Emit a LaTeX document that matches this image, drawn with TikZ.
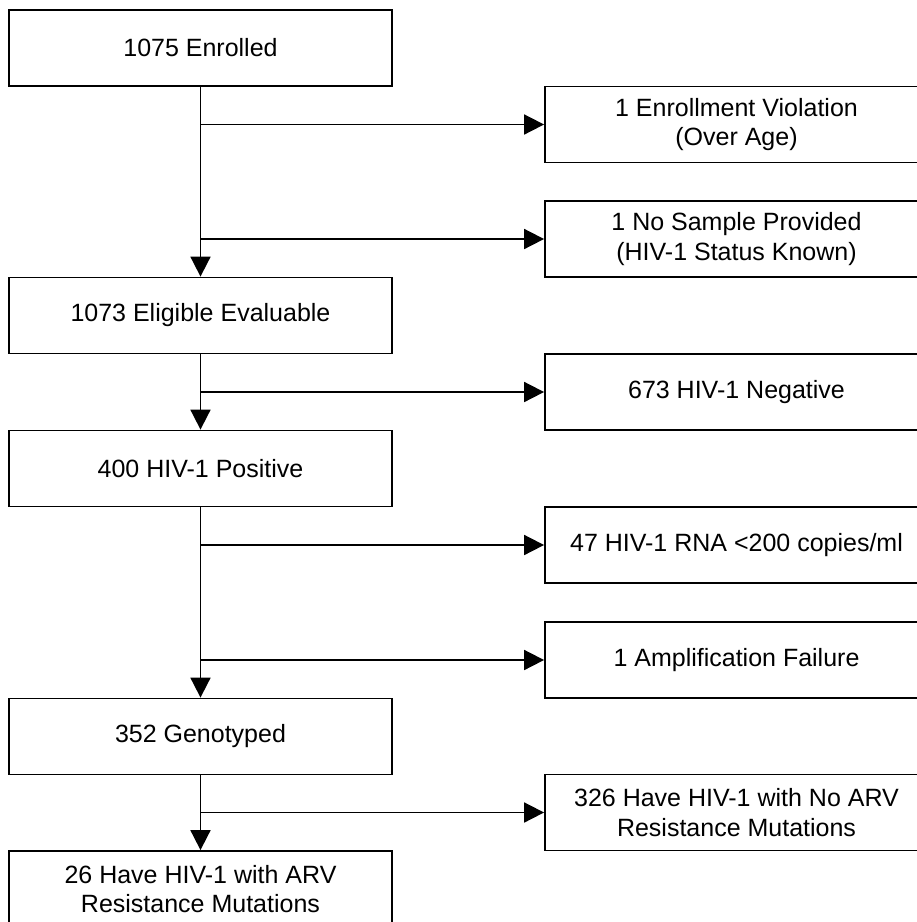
\documentclass[tikz,border=0pt]{standalone}
\usepackage{fontspec}
\setmainfont{Liberation Sans}
\usetikzlibrary{arrows.meta, positioning}

\begin{document}
\begin{tikzpicture}[
    x=1pt, y=-1pt,
    stage/.style={rectangle, draw=black, line width=1.8pt, minimum width=383pt, minimum height=76pt, inner sep=0pt, align=center, font=\fontsize{25}{29.5}\selectfont},
    arrow/.style={-{Triangle[length=20pt, width=20pt]}, line width=1.8pt}
]
\useasboundingbox (0,0) rectangle (917,922);
\clip (0,0) rectangle (917,922);

% Main flow on the left
\node[stage] (enrolled) at (200.5,48) {1075 Enrolled};
\node[stage] (eligible) at (200.5,315.5) {1073 Eligible Evaluable};
\node[stage] (positive) at (200.5,468.5) {400 HIV-1 Positive};
\node[stage] (genotyped) at (200.5,736.5) {352 Genotyped};
\node[stage] (resistant) at (200.5,889) {26 Have HIV-1 with ARV\\Resistance Mutations};

% Exclusions on the right
\node[stage] (violation) at (736.5,124.5) {1 Enrollment Violation\\(Over Age)};
\node[stage] (nosample) at (736.5,239) {1 No Sample Provided\\(HIV-1 Status Known)};
\node[stage] (negative) at (736.5,392) {673 HIV-1 Negative};
\node[stage] (lowrna) at (736.5,545) {47 HIV-1 RNA <200 copies/ml};
\node[stage] (ampfail) at (736.5,660) {1 Amplification Failure};
\node[stage] (noresist) at (736.5,812.5) {326 Have HIV-1 with No ARV\\Resistance Mutations};

% Downward flow
\draw[arrow] (enrolled) -- (eligible);
\draw[arrow] (eligible) -- (positive);
\draw[arrow] (positive) -- (genotyped);
\draw[arrow] (genotyped) -- (resistant);

% Branches off the main line
\draw[arrow] (violation.west -| enrolled.south) -- (violation.west);
\draw[arrow] (nosample.west -| enrolled.south) -- (nosample.west);
\draw[arrow] (negative.west -| eligible.south) -- (negative.west);
\draw[arrow] (lowrna.west -| positive.south) -- (lowrna.west);
\draw[arrow] (ampfail.west -| positive.south) -- (ampfail.west);
\draw[arrow] (noresist.west -| genotyped.south) -- (noresist.west);

\end{tikzpicture}
\end{document}
